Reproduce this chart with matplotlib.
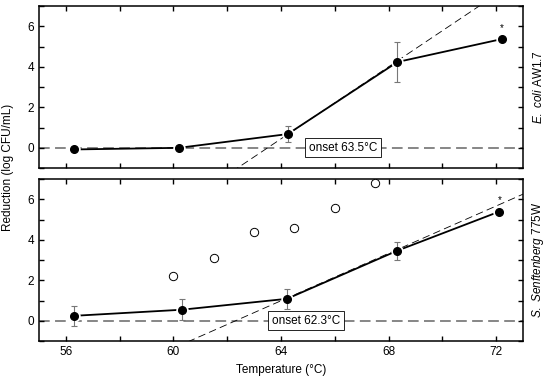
import numpy as np
import matplotlib
matplotlib.use('Agg')
import matplotlib.pyplot as plt
from matplotlib.ticker import MultipleLocator

plt.rcParams['font.family'] = ['Liberation Sans', 'DejaVu Sans']
plt.rcParams['mathtext.fontset'] = 'custom'
plt.rcParams['mathtext.it'] = 'Liberation Sans:italic'
plt.rcParams['mathtext.rm'] = 'Liberation Sans'

# E. coli AW1.7 (top)
ecoli_temp = [56.3, 60.2, 64.25, 68.33, 72.2]
ecoli_red = [-0.08, 0.0, 0.68, 4.24, 5.37]
ecoli_err = [0.0, 0.0, 0.4, 1.0, 0.0]
ecoli_onset = 63.5
ecoli_slope = 0.89

# S. Senftenberg 775W (bottom)
senf_temp = [56.3, 60.3, 64.22, 68.33, 72.12]
senf_red = [0.25, 0.55, 1.09, 3.47, 5.40]
senf_err = [0.5, 0.53, 0.5, 0.45, 0.0]
senf_onset = 62.3
senf_slope = 0.585

# open circles in bottom panel
open_temp = [60.0, 61.5, 63.0, 64.5, 66.0, 67.5]
open_red = [2.2, 3.1, 4.4, 4.6, 5.6, 6.8]

fig = plt.figure(figsize=(5.5, 3.82), dpi=100)
ax1 = fig.add_axes([0.071, 0.560, 0.880, 0.424])
ax2 = fig.add_axes([0.071, 0.107, 0.880, 0.424])


def panel(ax, t, r, e, onset, slope, label, box_x):
    ax.set_xlim(55, 73)
    ax.set_ylim(-1, 7)
    ax.axhline(0, color='#666666', lw=1.1, dashes=(7, 3.5), zorder=1)
    xs = np.array([onset - 1.5 / slope, 73.5])
    ax.plot(xs, slope * (xs - onset), color='black', lw=0.6, dashes=(9, 5), zorder=1)
    ax.plot(t, r, color='black', lw=1.3, zorder=2)
    ax.plot(t, r, 'o', ms=5.5, mfc='white', mec='white', mew=3.5, zorder=3)
    ax.errorbar(t, r, yerr=e, fmt='none', ecolor='#777777', elinewidth=0.8,
                capsize=2.5, capthick=0.8, zorder=4)
    ax.plot(t, r, 'o', ms=5.5, mfc='black', mec='black', zorder=5)
    ax.text(t[-1], r[-1] + 0.55, '*', ha='center', va='center', fontsize=7)
    ax.text(box_x, 0, 'onset {}°C'.format(onset), ha='center', va='center', fontsize=8.5,
            bbox=dict(boxstyle='square,pad=0.3', fc='white', ec='black', lw=0.6), zorder=6)
    ax.text(1.031, 0.5, label, transform=ax.transAxes, rotation=90,
            ha='center', va='center', fontsize=8.5)
    ax.xaxis.set_major_locator(MultipleLocator(4))
    ax.xaxis.set_minor_locator(MultipleLocator(2))
    ax.yaxis.set_major_locator(MultipleLocator(2))
    ax.yaxis.set_minor_locator(MultipleLocator(1))
    ax.tick_params(which='both', direction='in', top=True, right=True, length=3.5,
                   width=1, labelsize=8.5)
    for s in ax.spines.values():
        s.set_linewidth(1.1)


panel(ax1, ecoli_temp, ecoli_red, ecoli_err, ecoli_onset, ecoli_slope,
      r'$\it{E.\ coli}$ AW1.7', 66.3)
panel(ax2, senf_temp, senf_red, senf_err, senf_onset, senf_slope,
      r'$\it{S.\ Senftenberg}$ 775W', 64.93)
ax2.plot(open_temp, open_red, 'o', ms=6, mfc='white', mec='black', mew=0.7, zorder=5)
ax1.tick_params(labelbottom=False)
ax2.set_xlabel('Temperature (°C)', fontsize=8.5, labelpad=4)
fig.text(0.015, 0.561, 'Reduction (log CFU/mL)', rotation=90, ha='center', va='center',
         fontsize=8.5)

fig.savefig('out.png', dpi=100)
